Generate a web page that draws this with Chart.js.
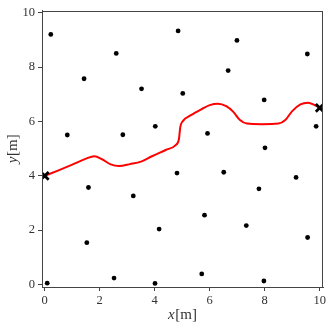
<!DOCTYPE html>
<html>
<head>
<meta charset="utf-8">
<script src="https://cdn.jsdelivr.net/npm/chart.js@4.4.1/dist/chart.umd.min.js"></script>
<style>
html,body{margin:0;padding:0;background:#fff;}
#wrap{width:333px;height:328px;}
</style>
</head>
<body>
<div id="wrap"><canvas id="c" width="333" height="328"></canvas></div>
<script>
// Obstacle points
const obstacleX = [0.22,0.82,1.43,2.60,2.84,3.52,4.02,4.85,6.99,9.55,6.67,5.02,7.98,5.92,9.87,8.01,4.81,6.51,9.14,7.79,5.81,7.33,9.56,5.71,7.97,1.59,3.22,4.16,1.53,2.52,4.01,0.09];
const obstacleY = [9.20,5.50,7.57,8.50,5.51,7.20,5.82,9.33,8.98,8.48,7.87,7.03,6.79,5.56,5.82,5.03,4.10,4.13,3.94,3.52,2.55,2.17,1.73,0.39,0.13,3.57,3.26,2.04,1.54,0.24,0.04,0.05];
// Path
const pathX = [0,0.5,1.0,1.5,1.8,2.1,2.4,2.7,3.1,3.5,3.9,4.4,4.75,4.88,4.93,5.03,5.3,5.7,6.0,6.3,6.6,6.85,7.1,7.35,7.9,8.5,8.75,9.0,9.3,9.58,9.82,10];
const pathY = [4.0,4.2,4.41,4.63,4.72,4.6,4.42,4.36,4.43,4.52,4.72,4.95,5.12,5.35,5.8,6.02,6.22,6.45,6.6,6.65,6.56,6.36,6.05,5.92,5.9,5.92,6.05,6.38,6.63,6.69,6.6,6.5];
// Start / goal
const endX = [0,10];
const endY = [4,6.5];
const tickVals = [0,2,4,6,8,10];
const xTitle = ['x','[m]'];
const yTitle = ['y','[m]'];

const zip = (xs, ys) => xs.map((x,i)=>({x:x,y:ys[i]}));
const serif = "'Liberation Serif', 'DejaVu Serif', serif";

function drawMixed(ctx, parts, cx, cy){
  const fItal = "italic 15px " + serif, fUp = "15px " + serif;
  ctx.font = fItal; const w0 = ctx.measureText(parts[0]).width;
  ctx.font = fUp; const w1 = ctx.measureText(parts[1]).width;
  const total = w0 + w1 + 0.5;
  let x = cx - total/2;
  ctx.textBaseline = 'middle'; ctx.textAlign = 'left';
  ctx.font = fItal; ctx.fillText(parts[0], x, cy);
  ctx.font = fUp; ctx.fillText(parts[1], x + w0 + 0.5, cy);
}

const frame = {
  id:'frame',
  afterDatasetsDraw(chart){
    const a = chart.chartArea, ctx = chart.ctx;
    ctx.save();
    ctx.strokeStyle = '#444';
    ctx.lineWidth = 1;
    ctx.strokeRect(Math.round(a.left)+0.5, Math.round(a.top)+0.5, Math.round(a.right-a.left)-1, Math.round(a.bottom-a.top)-1);
    ctx.fillStyle = '#333';
    drawMixed(ctx, xTitle, (a.left+a.right)/2, 315);
    ctx.translate(13, (a.top+a.bottom)/2);
    ctx.rotate(-Math.PI/2);
    drawMixed(ctx, yTitle, 0, 0);
    ctx.restore();
  }
};

new Chart(document.getElementById('c'), {
  type:'scatter',
  data:{
    datasets:[
      {data:zip(endX,endY), pointStyle:'crossRot', pointRadius:5.5, borderColor:'#000', backgroundColor:'#000', pointBorderWidth:2.8, showLine:false},
      {data:zip(pathX,pathY), showLine:true, borderColor:'#ff0000', borderWidth:2, pointRadius:0, cubicInterpolationMode:'monotone', fill:false},
      {data:zip(obstacleX,obstacleY), pointRadius:2.4, backgroundColor:'#000', borderColor:'#000', borderWidth:0, showLine:false}
    ]
  },
  options:{
    responsive:false,
    animation:false,
    events:[],
    layout:{padding:{left:0,right:10,top:8,bottom:0}},
    plugins:{legend:{display:false}, tooltip:{enabled:false}},
    scales:{
      x:{
        type:'linear', min:-0.1, max:10.12,
        afterBuildTicks:s=>{s.ticks = tickVals.map(v=>({value:v}));},
        afterFit:s=>{s.height = 41;},
        grid:{display:true, drawOnChartArea:false, drawTicks:true, tickLength:4, tickColor:'#444'},
        border:{display:true, color:'#444', width:1},
        ticks:{color:'#333', font:{family:serif, size:12.5}, padding:2, maxRotation:0},
        title:{display:false}
      },
      y:{
        type:'linear', min:-0.09, max:10.08,
        afterBuildTicks:s=>{s.ticks = tickVals.map(v=>({value:v}));},
        afterFit:s=>{s.width = 42;},
        grid:{display:true, drawOnChartArea:false, drawTicks:true, tickLength:4, tickColor:'#444'},
        border:{display:true, color:'#444', width:1},
        ticks:{color:'#333', font:{family:serif, size:12.5}, padding:3},
        title:{display:false}
      }
    }
  },
  plugins:[frame]
});
</script>
</body>
</html>
